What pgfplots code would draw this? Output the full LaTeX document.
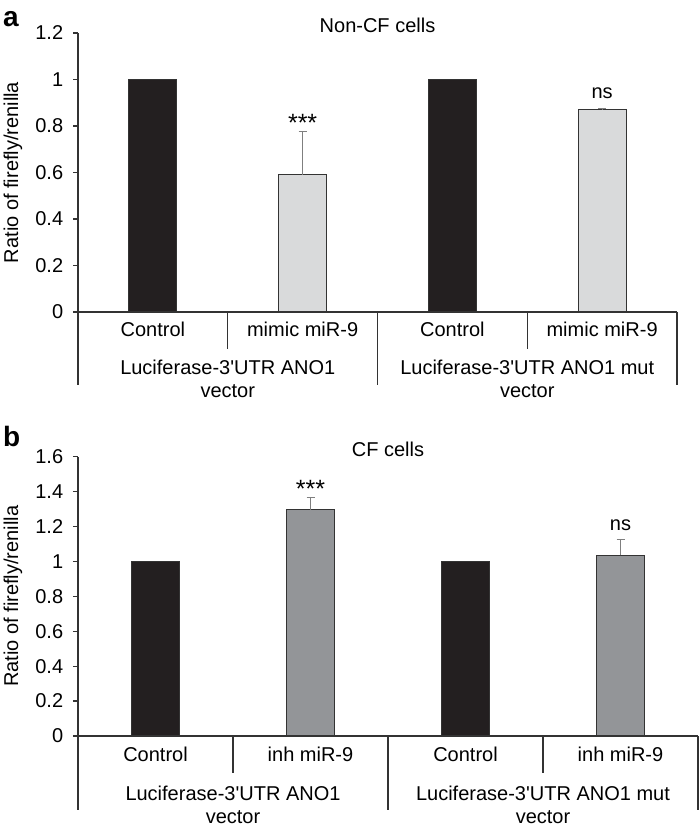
\documentclass[border=0pt]{standalone}
\usepackage{fontspec}
\setmainfont{Liberation Sans}
\usepackage{pgfplots}
\pgfplotsset{compat=1.18}

\definecolor{barblack}{HTML}{231F20}
\definecolor{barlight}{HTML}{D9DADB}
\definecolor{bargray}{HTML}{939598}
\definecolor{linegray}{HTML}{333333}
\definecolor{errgray}{HTML}{7F7F7F}

% data: x, value, error
\pgfplotstableread{
x y e
1 1 0
3 1 0
}\ctrla
\pgfplotstableread{
x y e
2 0.59 0.185
4 0.87 0.006
}\mimic
\pgfplotstableread{
x y e
1 1 0
3 1 0
}\ctrlb
\pgfplotstableread{
x y e
2 1.295 0.072
4 1.035 0.092
}\inh

\pgfplotsset{
  panel/.style={
    scale only axis, anchor=south west,
    ybar, bar shift=0pt, bar width=48pt,
    xmin=0.5, xmax=4.5, ymin=0,
    axis x line*=bottom, axis y line*=left,
    axis line style={linegray, line width=1.2pt},
    tick align=outside, major tick length=5pt,
    xtick={1,2,3,4},
    x tick style={draw=none},
    y tick style={linegray, line width=1.2pt},
    xticklabel style={anchor=base, yshift=-20pt},
    yticklabel style={xshift=-3pt},
    /pgf/number format/assume math mode=true,
    ylabel={Ratio of firefly/renilla},
    every axis y label/.style={at={(axis description cs:0,0.5)}, rotate=90, anchor=center, yshift=65pt},
    every axis title/.style={at={(axis description cs:0.5,1)}, anchor=base},
    clip=false,
  },
  ctrl/.style={fill=barblack, draw=linegray, line width=1pt},
  trt/.style={draw=linegray, line width=1pt,
    error bars/y dir=plus, error bars/y explicit,
    error bars/error bar style={errgray, line width=1pt},
    error bars/error mark options={rotate=90, errgray, mark size=4pt, line width=1pt}},
}
\tikzset{sep/.style={linegray, line width=1.2pt}}
\newcommand{\stars}{{\fontsize{25}{28}\selectfont ***}}

\begin{document}
\fontsize{20}{23}\selectfont
\begin{tikzpicture}
\path[use as bounding box] (0,0) rectangle (700pt,829pt);

% panel a
\begin{axis}[panel, at={(78pt,517pt)}, width=599pt, height=279pt,
  ymax=1.2, ytick={0,0.2,0.4,0.6,0.8,1,1.2},
  xticklabels={Control, mimic miR-9, Control, mimic miR-9},
  title={Non-CF cells}]
\addplot[ctrl] table[x=x, y=y] {\ctrla};
\addplot[trt, fill=barlight] table[x=x, y=y, y error=e] {\mimic};
\draw[sep] (axis cs:1.5,0) -- ([yshift=-37pt]axis cs:1.5,0);
\draw[sep] (axis cs:3.5,0) -- ([yshift=-37pt]axis cs:3.5,0);
\draw[sep] (axis cs:0.5,0) -- ([yshift=-73pt]axis cs:0.5,0);
\draw[sep] (axis cs:2.5,0) -- ([yshift=-73pt]axis cs:2.5,0);
\draw[sep] (axis cs:4.5,0) -- ([yshift=-73pt]axis cs:4.5,0);
\node[anchor=base] at ([yshift=-63pt]axis cs:1.5,0) {Luciferase-3\textquotesingle UTR ANO1};
\node[anchor=base] at ([yshift=-86pt]axis cs:1.5,0) {vector};
\node[anchor=base] at ([yshift=-63pt]axis cs:3.5,0) {Luciferase-3\textquotesingle UTR ANO1 mut};
\node[anchor=base] at ([yshift=-86pt]axis cs:3.5,0) {vector};
\node[anchor=base] at (axis cs:2,0.775) {\stars};
\node[anchor=base] at ([yshift=10pt]axis cs:4,0.876) {ns};
\end{axis}

% panel b
\begin{axis}[panel, at={(78pt,93pt)}, width=620pt, height=279.3pt,
  ymax=1.6, ytick={0,0.2,0.4,0.6,0.8,1,1.2,1.4,1.6},
  xticklabels={Control, inh miR-9, Control, inh miR-9},
  title={CF cells}]
\addplot[ctrl] table[x=x, y=y] {\ctrlb};
\addplot[trt, fill=bargray] table[x=x, y=y, y error=e] {\inh};
\draw[sep] (axis cs:1.5,0) -- ([yshift=-37pt]axis cs:1.5,0);
\draw[sep] (axis cs:3.5,0) -- ([yshift=-37pt]axis cs:3.5,0);
\draw[sep] (axis cs:0.5,0) -- ([yshift=-74pt]axis cs:0.5,0);
\draw[sep] (axis cs:2.5,0) -- ([yshift=-74pt]axis cs:2.5,0);
\draw[sep] (axis cs:4.5,0) -- ([yshift=-74pt]axis cs:4.5,0);
\node[anchor=base] at ([yshift=-64pt]axis cs:1.5,0) {Luciferase-3\textquotesingle UTR ANO1};
\node[anchor=base] at ([yshift=-87pt]axis cs:1.5,0) {vector};
\node[anchor=base] at ([yshift=-64pt]axis cs:3.5,0) {Luciferase-3\textquotesingle UTR ANO1 mut};
\node[anchor=base] at ([yshift=-87pt]axis cs:3.5,0) {vector};
\node[anchor=base] at (axis cs:2,1.367) {\stars};
\node[anchor=base] at ([yshift=9pt]axis cs:4,1.127) {ns};
\end{axis}

\node[anchor=base west, inner sep=0pt, font=\fontsize{28}{32}\selectfont\bfseries] at (3pt,802pt) {a};
\node[anchor=base west, inner sep=0pt, font=\fontsize{28}{32}\selectfont\bfseries] at (3pt,382pt) {b};
\end{tikzpicture}
\end{document}
